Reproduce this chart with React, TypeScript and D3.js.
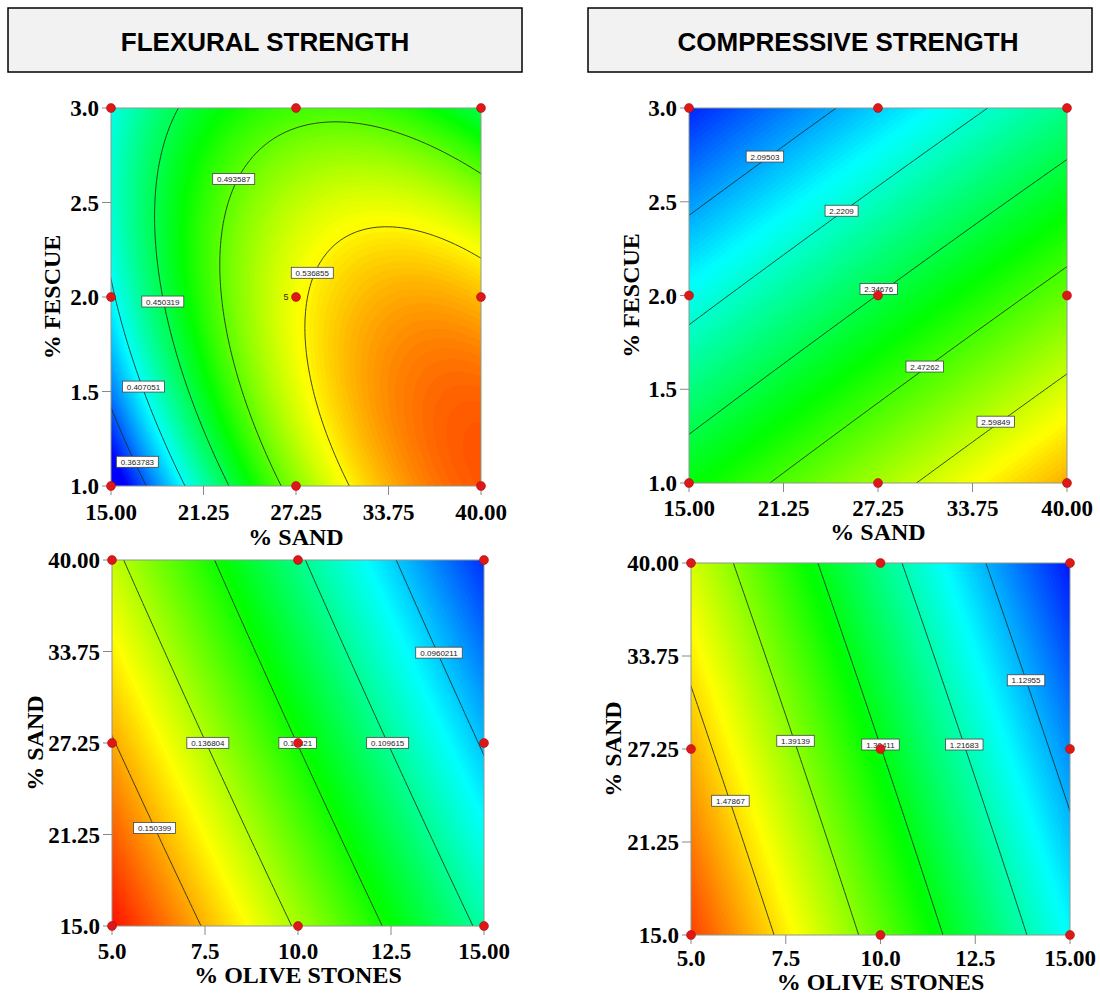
import React, { useMemo } from 'react';
import * as d3 from 'd3';

// factor ranges and axes
const sandRange = [15, 40];
const fescueRange = [1, 3];
const oliveRange = [5, 15];

const sandTicks = [15, 21.25, 27.5, 33.75, 40];
const sandTickLabelsX = ['15.00', '21.25', '27.25', '33.75', '40.00'];
const sandTickLabelsY = ['15.0', '21.25', '27.25', '33.75', '40.00'];
const fescueTicks = [1, 1.5, 2, 2.5, 3];
const fescueTickLabels = ['1.0', '1.5', '2.0', '2.5', '3.0'];
const oliveTicks = [5, 7.5, 10, 12.5, 15];
const oliveTickLabels = ['5.0', '7.5', '10.0', '12.5', '15.00'];

// design points (red dots)
const sandDesign = [15, 27.5, 40];
const fescueDesign = [1, 2, 3];
const oliveDesign = [5, 10, 15];

// contour levels shown on each plot
const flexSandFescueLevels = [0.363783, 0.407051, 0.450319, 0.493587, 0.536855];
const compSandFescueLevels = [2.09503, 2.2209, 2.34676, 2.47262, 2.59849];
const flexOliveSandLevels = [0.150399, 0.136804, 0.12321, 0.109615, 0.0960211];
const compOliveSandLevels = [1.47867, 1.39139, 1.30411, 1.21683, 1.12955];

// points, [x, y], one list per level
const flexSandFescueTraces = [
  [[15, 1.402], [16.29, 1.19], [17.19, 1.0]],
  [[15, 2.004], [16.06, 1.845], [17.64, 1.544], [19.9, 1.0]],
  [[19.45, 3.0], [18.55, 2.784], [17.98, 2.43], [18.32, 2.075], [19.22, 1.721], [20.8, 1.366], [22.95, 1.0]],
  [[40, 2.651], [36.84, 2.784], [33.45, 2.881], [30.06, 2.911], [26.9, 2.872], [24.19, 2.713], [22.84, 2.518],
    [22.27, 2.253], [22.38, 1.987], [23.29, 1.632], [24.64, 1.314], [26.56, 1.0]],
  [[40, 2.226], [36.84, 2.323], [34.58, 2.368], [31.65, 2.359], [29.61, 2.253], [28.37, 2.11], [28.08, 1.987],
    [28.15, 1.81], [28.93, 1.491], [30.07, 1.242], [31.08, 1.0]],
];
const compSandFescueTraces = [
  [[15, 2.416], [17.71, 2.586], [20.02, 2.741], [24.87, 3.0]],
  [[15, 1.845], [19.91, 2.139], [25.09, 2.452], [29.82, 2.711], [34.67, 3.0]],
  [[15, 1.264], [21.01, 1.621], [27.55, 1.996], [33.79, 2.363], [40, 2.729]],
  [[20.35, 1.0], [25.42, 1.3], [30.59, 1.621], [35.33, 1.889], [40, 2.148]],
  [[30.26, 1.0], [35.29, 1.327], [40, 1.577]],
];
const flexOliveSandTraces = [
  [[5, 27.79], [6.145, 21.7], [7.4, 15]],
  [[5.34, 40], [7.576, 27.51], [9.84, 15]],
  [[7.755, 40], [9.99, 27.21], [12.27, 15]],
  [[10.17, 40], [12.41, 27.51], [14.69, 15]],
  [[12.63, 40], [13.79, 33.67], [15, 26.63]],
];
const compOliveSandTraces = [
  [[5, 31.56], [6.04, 24.02], [7.185, 15]],
  [[6.128, 40], [7.758, 28.05], [9.43, 15]],
  [[8.33, 40], [10.0, 27.49], [11.63, 15]],
  [[10.58, 40], [12.21, 27.8], [13.88, 15]],
  [[12.78, 40], [13.84, 32.12], [15, 23.28]],
];

// where the value boxes sit on each contour
const flexSandFescueLabelPos = [[16.78, 1.128], [17.19, 1.526], [18.5, 1.976], [23.29, 2.624], [28.6, 2.128]];
const compSandFescueLabelPos = [[20.02, 2.741], [25.09, 2.452], [27.55, 2.035], [30.59, 1.621], [35.29, 1.327]];
const flexOliveSandLabelPos = [[6.145, 21.7], [7.576, 27.51], [9.99, 27.51], [12.41, 27.51], [13.79, 33.67]];
const compOliveSandLabelPos = [[6.04, 24.02], [7.758, 28.05], [10.0, 27.8], [12.21, 27.8], [13.84, 32.12]];

// response values mapped to blue .. red
const flexSandFescueColor = [0.34, 0.6];
const compSandFescueColor = [1.938, 2.887];
const flexOliveSandColor = [0.079, 0.165];
const compOliveSandColor = [1.03, 1.6];

const rainbow = ['#0000ff', '#00ffff', '#00ff00', '#ffff00', '#ff0000'];
const serif = "'Liberation Serif', 'Times New Roman', serif";
const sans = "'Liberation Sans', Arial, sans-serif";

// least squares quadratic response surface in coded units
function fitSurface(levels, traces, xRange, yRange) {
  const code = (v, r) => (2 * (v - r[0])) / (r[1] - r[0]) - 1;
  const terms = (a, b) => [1, a, b, a * b, a * a, b * b];
  const rows = [];
  const ys = [];
  traces.forEach((tr, k) =>
    tr.forEach(([x, y]) => {
      rows.push(terms(code(x, xRange), code(y, yRange)));
      ys.push(levels[k]);
    })
  );
  const p = 6;
  const M = d3.range(p).map((i) =>
    d3.range(p + 1).map((j) =>
      j < p ? d3.sum(rows, (r) => r[i] * r[j]) : d3.sum(rows, (r, n) => r[i] * ys[n])
    )
  );
  for (let c = 0; c < p; c++) {
    let piv = c;
    for (let r = c + 1; r < p; r++) if (Math.abs(M[r][c]) > Math.abs(M[piv][c])) piv = r;
    [M[c], M[piv]] = [M[piv], M[c]];
    for (let r = 0; r < p; r++) {
      if (r === c) continue;
      const f = M[r][c] / M[c][c];
      for (let j = c; j <= p; j++) M[r][j] -= f * M[c][j];
    }
  }
  const coef = M.map((row, i) => row[p] / row[i]);
  return (x, y) => d3.sum(terms(code(x, xRange), code(y, yRange)), (t, i) => t * coef[i]);
}

const ContourPanel = ({ id, box, xRange, yRange, xTicks, xTickLabels, yTicks, yTickLabels,
  xDesign, yDesign, xTitle, yTitle, yTitleGap, tickGap, titleGap, showReplicates,
  levels, traces, labelPos, colorDomain }) => {
  const { left, right, top, bottom } = box;
  const x = d3.scaleLinear().domain(xRange).range([left, right]);
  const y = d3.scaleLinear().domain(yRange).range([bottom, top]);

  const { bands, lines } = useMemo(() => {
    const f = fitSurface(levels, traces, xRange, yRange);
    const n = 90;
    const pad = 2;
    const N = n + 2 * pad;
    const gx = (g) => xRange[0] + ((g - pad) / n) * (xRange[1] - xRange[0]);
    const gy = (g) => yRange[1] - ((g - pad) / n) * (yRange[1] - yRange[0]);
    const values = new Array(N * N);
    for (let j = 0; j < N; j++)
      for (let i = 0; i < N; i++) values[j * N + i] = f(gx(i + 0.5), gy(j + 0.5));

    const path = d3.geoPath(
      d3.geoTransform({
        point(px, py) {
          this.stream.point(x(gx(px)), y(gy(py)));
        },
      })
    );
    const color = d3.scaleLinear()
      .domain(d3.range(5).map((i) => colorDomain[0] + (i * (colorDomain[1] - colorDomain[0])) / 4))
      .range(rainbow)
      .clamp(true);
    const [vmin, vmax] = d3.extent(values);
    const step = (colorDomain[1] - colorDomain[0]) / 140;
    const ts = d3.range(Math.floor(vmin / step) * step, vmax, step);
    const bandContours = d3.contours().size([N, N]).thresholds(ts)(values);
    const lineContours = d3.contours().size([N, N]).thresholds(levels)(values);
    return {
      bands: bandContours.map((c) => ({ d: path(c), fill: color(c.value + step / 2) })),
      lines: lineContours.map((c) => path(c)),
    };
  }, [levels, traces, xRange, yRange, colorDomain, left, right, top, bottom]);

  const cx = (left + right) / 2;
  const cy = (top + bottom) / 2;

  return (
    <g>
      <defs>
        <clipPath id={`clip-${id}`}>
          <rect x={left} y={top} width={right - left} height={bottom - top} />
        </clipPath>
      </defs>
      <g clipPath={`url(#clip-${id})`}>
        {bands.map((b, i) => (
          <path key={i} d={b.d} fill={b.fill} />
        ))}
        {lines.map((d, i) => (
          <path key={i} d={d} fill="none" stroke="#1e2a1e" strokeWidth={1} strokeOpacity={0.85} />
        ))}
      </g>
      <rect x={left} y={top} width={right - left} height={bottom - top} fill="none" stroke="#8c9a8c" strokeWidth={1} />

      {xTicks.map((t, i) => (
        <g key={`xt${i}`}>
          <line x1={x(t)} x2={x(t)} y1={bottom} y2={bottom + 9} stroke="#888" />
          <text x={x(t)} y={bottom + tickGap} textAnchor="middle" fontFamily={serif} fontWeight="bold" fontSize={23}>
            {xTickLabels[i]}
          </text>
        </g>
      ))}
      {yTicks.map((t, i) => (
        <g key={`yt${i}`}>
          <line x1={left - 9} x2={left} y1={y(t)} y2={y(t)} stroke="#888" />
          <text x={left - 12} y={y(t) + 8} textAnchor="end" fontFamily={serif} fontWeight="bold" fontSize={23}>
            {yTickLabels[i]}
          </text>
        </g>
      ))}
      <text x={cx} y={bottom + titleGap} textAnchor="middle" fontFamily={serif} fontWeight="bold" fontSize={24}>
        {xTitle}
      </text>
      <text
        transform={`translate(${left - yTitleGap},${cy}) rotate(-90)`}
        textAnchor="middle"
        dy="0.35em"
        fontFamily={serif}
        fontWeight="bold"
        fontSize={24}
      >
        {yTitle}
      </text>

      {showReplicates && (
        <text x={x(xDesign[1]) - 10} y={y(yDesign[1]) + 3} textAnchor="middle" fontFamily={sans} fontSize={9} fill="#3a1a10">
          5
        </text>
      )}
      {levels.map((lv, i) => {
        const label = String(lv);
        const w = label.length * 4.5 + 6;
        const px = x(labelPos[i][0]);
        const py = y(labelPos[i][1]);
        return (
          <g key={`lb${i}`}>
            <rect x={px - w / 2} y={py - 5.5} width={w} height={11} fill="#fff" stroke="#444" strokeWidth={0.8} />
            <text x={px} y={py + 3} textAnchor="middle" fontFamily={sans} fontSize={8} fill="#222">
              {label}
            </text>
          </g>
        );
      })}
      {xDesign.map((dx) =>
        yDesign.map((dy) => (
          <circle key={`${dx}-${dy}`} cx={x(dx)} cy={y(dy)} r={4.5} fill="#dd1818" stroke="#a00" strokeWidth={0.5} />
        ))
      )}
    </g>
  );
};

export default function App() {
  return (
    <svg width={1100} height={994} style={{ position: 'absolute', left: 0, top: 0, background: '#fff' }}>
      <rect x={8} y={8} width={514} height={64} fill="#f2f2f2" stroke="#000" strokeWidth={1.5} />
      <text x={265} y={51} textAnchor="middle" fontFamily={sans} fontWeight="bold" fontSize={26}>
        FLEXURAL STRENGTH
      </text>
      <rect x={588} y={8} width={504} height={64} fill="#f2f2f2" stroke="#000" strokeWidth={1.5} />
      <text x={848} y={51} textAnchor="middle" fontFamily={sans} fontWeight="bold" fontSize={26}>
        COMPRESSIVE STRENGTH
      </text>

      <ContourPanel
        id="p1"
        box={{ left: 111, right: 481, top: 108, bottom: 486 }}
        xRange={sandRange}
        yRange={fescueRange}
        xTicks={sandTicks}
        xTickLabels={sandTickLabelsX}
        yTicks={fescueTicks}
        yTickLabels={fescueTickLabels}
        xDesign={sandDesign}
        yDesign={fescueDesign}
        xTitle="% SAND"
        yTitle="% FESCUE"
        yTitleGap={59}
        tickGap={34}
        titleGap={59}
        showReplicates
        levels={flexSandFescueLevels}
        traces={flexSandFescueTraces}
        labelPos={flexSandFescueLabelPos}
        colorDomain={flexSandFescueColor}
      />
      <ContourPanel
        id="p2"
        box={{ left: 689, right: 1067, top: 108, bottom: 483 }}
        xRange={sandRange}
        yRange={fescueRange}
        xTicks={sandTicks}
        xTickLabels={sandTickLabelsX}
        yTicks={fescueTicks}
        yTickLabels={fescueTickLabels}
        xDesign={sandDesign}
        yDesign={fescueDesign}
        xTitle="% SAND"
        yTitle="% FESCUE"
        yTitleGap={58}
        tickGap={33}
        titleGap={57}
        showReplicates={false}
        levels={compSandFescueLevels}
        traces={compSandFescueTraces}
        labelPos={compSandFescueLabelPos}
        colorDomain={compSandFescueColor}
      />
      <ContourPanel
        id="p3"
        box={{ left: 112, right: 484, top: 560, bottom: 926 }}
        xRange={oliveRange}
        yRange={sandRange}
        xTicks={oliveTicks}
        xTickLabels={oliveTickLabels}
        yTicks={sandTicks}
        yTickLabels={sandTickLabelsY}
        xDesign={oliveDesign}
        yDesign={sandDesign}
        xTitle="% OLIVE STONES"
        yTitle="% SAND"
        yTitleGap={77}
        tickGap={33}
        titleGap={57}
        showReplicates={false}
        levels={flexOliveSandLevels}
        traces={flexOliveSandTraces}
        labelPos={flexOliveSandLabelPos}
        colorDomain={flexOliveSandColor}
      />
      <ContourPanel
        id="p4"
        box={{ left: 691, right: 1070, top: 563, bottom: 935 }}
        xRange={oliveRange}
        yRange={sandRange}
        xTicks={oliveTicks}
        xTickLabels={oliveTickLabels}
        yTicks={sandTicks}
        yTickLabels={sandTickLabelsY}
        xDesign={oliveDesign}
        yDesign={sandDesign}
        xTitle="% OLIVE STONES"
        yTitle="% SAND"
        yTitleGap={78}
        tickGap={31}
        titleGap={55}
        showReplicates={false}
        levels={compOliveSandLevels}
        traces={compOliveSandTraces}
        labelPos={compOliveSandLabelPos}
        colorDomain={compOliveSandColor}
      />
    </svg>
  );
}
